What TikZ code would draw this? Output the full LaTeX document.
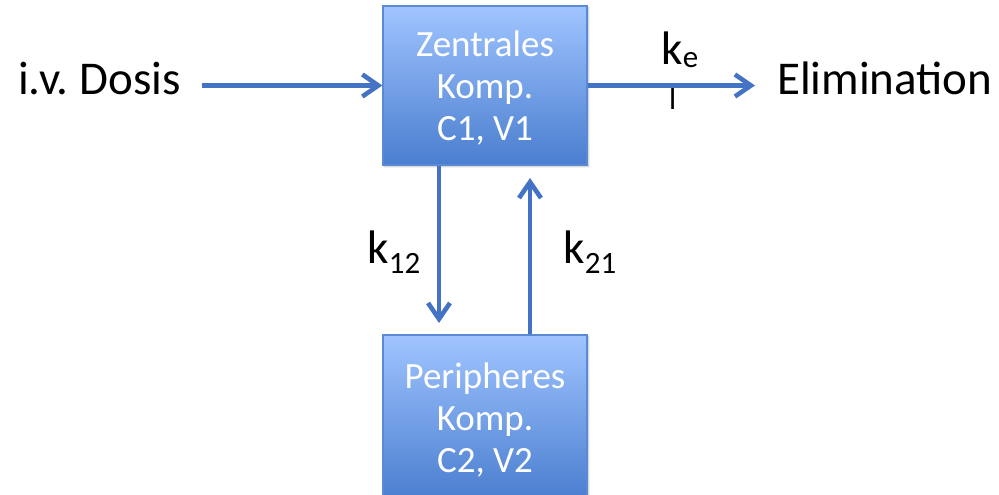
\documentclass[tikz,border=0pt]{standalone}
\usepackage{fontspec}
\setmainfont{Carlito}
\usetikzlibrary{arrows.meta,shadows.blur}
\definecolor{flowblue}{HTML}{4472C4}
\definecolor{boxtop}{HTML}{A0C4FF}
\definecolor{boxbot}{HTML}{4A7ECF}
\definecolor{boxedge}{HTML}{5A8AD4}
% extra height on the first line pushes the centred block down a little
\newcommand{\boxlift}{\rule{0pt}{31pt}}
\begin{document}
\begin{tikzpicture}[x=1pt,y=-1pt,
  compartment/.style={rectangle, draw=boxedge, line width=1.2pt,
    top color=boxtop, bottom color=boxbot, minimum width=204pt,
    inner sep=0pt, text=white, align=center,
    font=\fontsize{37}{42}\selectfont,
    blur shadow={shadow xshift=1.5pt, shadow yshift=-1.5pt,
      shadow blur steps=5, shadow opacity=25}},
  flow/.style={draw=flowblue, line width=4.6pt,
    -{Straight Barb[length=16pt,width=22pt]}},
  big/.style={font=\fontsize{47}{50}\selectfont, inner sep=0pt, anchor=base west},
  sub/.style={font=\fontsize{31}{34}\selectfont, inner sep=0pt, anchor=base west}]
  \useasboundingbox (0,0) rectangle (999,495);

  % compartments
  \node[compartment, minimum height=159pt] (zentral) at (485,85.5)
    {\boxlift Zentrales\\Komp.\\C1, V1};
  \node[compartment, minimum height=165pt] (periph) at (485,417.5)
    {\boxlift Peripheres\\Komp.\\C2, V2};

  % outer labels
  \node[big] (dosis) at (18,95) {i.v.\hspace{-3pt} Dosis};
  \node[big] (elim) at (777,95) {Elimination};

  % rate constants
  \node[big] (kel) at (661,65) {k};
  \node[sub] (kelE) at ([yshift=-3pt]kel.base east) {e};
  \node[sub] (kelL) at (669,110) {l};
  \node[big] (k12) at (367,263) {k};
  \node[sub] (k12s) at ([yshift=-10pt]k12.base east) {12};
  \node[big] (k21) at (563,263) {k};
  \node[sub] (k21s) at ([yshift=-10pt]k21.base east) {21};

  % flows
  \coordinate (dosisStart) at (202,85.5);
  \coordinate (elimTip) at (755,85.5);
  \coordinate (downTip) at (439,323);
  \coordinate (upTip) at (530,178);
  \draw[flow] (dosisStart) -- (zentral.west);
  \draw[flow] (zentral.east) -- (elimTip);
  \draw[flow] (zentral.south -| downTip) -- (downTip);
  \draw[flow] (periph.north -| upTip) -- (upTip);
\end{tikzpicture}
\end{document}
